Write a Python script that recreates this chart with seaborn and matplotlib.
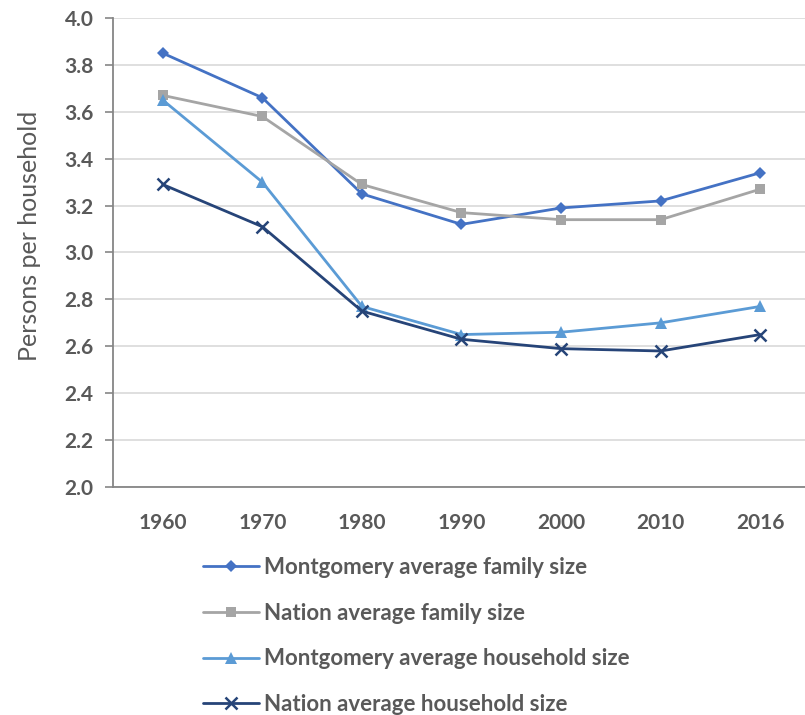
import pandas as pd
import numpy as np
import matplotlib.pyplot as plt
import seaborn as sns

years = ["1960", "1970", "1980", "1990", "2000", "2010", "2016"]
mont_family = [3.85, 3.66, 3.25, 3.12, 3.19, 3.22, 3.34]
nation_family = [3.67, 3.58, 3.29, 3.17, 3.14, 3.14, 3.27]
mont_household = [3.65, 3.30, 2.77, 2.65, 2.66, 2.70, 2.77]
nation_household = [3.29, 3.11, 2.75, 2.63, 2.59, 2.58, 2.65]

series_names = [
    "Montgomery average family size",
    "Nation average family size",
    "Montgomery average household size",
    "Nation average household size",
]
series_vals = [mont_family, nation_family, mont_household, nation_household]
colors = ["#4472C4", "#A5A5A5", "#5B9BD5", "#264478"]
markers = ["D", "s", "^", "x"]
msizes = [6.5, 7.5, 8, 8]

sns.set_theme(style="white")
plt.rcParams["font.family"] = ["Lato", "DejaVu Sans"]

fig = plt.figure(figsize=(8.05, 7.15), dpi=100)
ax = fig.add_axes([113 / 805, 1 - 487 / 715, 1 - 113 / 805, (487 - 18) / 715])

handles = []
for name, vals, c, m, ms in zip(series_names, series_vals, colors, markers, msizes):
    d = pd.DataFrame({"pos": range(len(years)), "value": vals})
    mew = 1.8 if m == "x" else 0
    sns.lineplot(data=d, x="pos", y="value", color=c, marker=m, markersize=ms,
                 markeredgewidth=mew, markeredgecolor=c, linewidth=2.0, ax=ax)
    handles.append(plt.Line2D([], [], color=c, marker=m, linewidth=2.0,
                              markersize=ms, markeredgewidth=mew, markeredgecolor=c))

ax.set_ylim(2.0, 4.0)
ax.set_xlim(-0.5, 6.45)
yt = np.arange(2.0, 4.01, 0.2)
ax.set_yticks(yt)
ax.set_yticklabels([f"{t:.1f}" for t in yt])
ax.set_xticks(range(len(years)))
ax.set_xticklabels(years)
ax.yaxis.grid(True, color="#D9D9D9", linewidth=1.2)
ax.set_axisbelow(True)

for s in ["top", "right"]:
    ax.spines[s].set_visible(False)
for s in ["left", "bottom"]:
    ax.spines[s].set_color("#868686")
    ax.spines[s].set_linewidth(1.3)

ax.tick_params(axis="y", which="major", left=True, length=6, width=1.2, color="#868686",
               labelsize=15, labelcolor="#595959", pad=8)
ax.tick_params(axis="x", bottom=False, labelsize=15, labelcolor="#595959", pad=13)
for lab in ax.get_xticklabels() + ax.get_yticklabels():
    lab.set_fontweight("bold")

ax.set_xlabel("")
ax.set_ylabel("Persons per household", fontsize=18, color="#595959")
ax.yaxis.set_label_coords(-0.104, 0.535)

leg = fig.legend(
    handles, series_names, loc="upper left",
    bbox_to_anchor=(203 / 805, 1 - 557 / 715),
    frameon=False, borderpad=0, borderaxespad=0,
    handlelength=2.5, handletextpad=0.25, labelspacing=1.11,
    prop={"size": 16, "weight": "bold"},
)
for t in leg.get_texts():
    t.set_color("#595959")

fig.savefig("out.png", dpi=100)
